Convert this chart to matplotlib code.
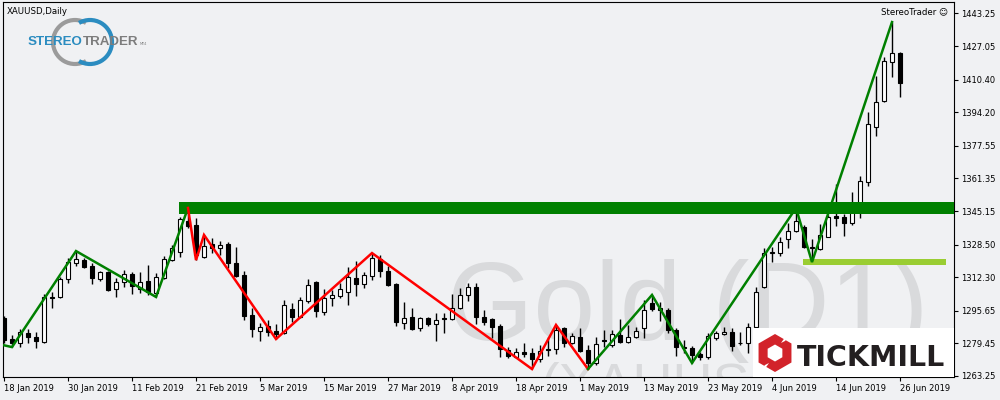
import matplotlib
matplotlib.use("Agg")
import matplotlib.pyplot as plt
import numpy as np
from matplotlib import patches

# ---------------- data (XAUUSD daily, 18 Jan 2019 .. 26 Jun 2019) ----------------
opens = [1292.0, 1281.6, 1279.6, 1284.6, 1282.6, 1280.1, 1302.5, 1302.5, 1311.4, 1319.4,
         1320.8, 1317.9, 1311.4, 1314.9, 1306.4, 1309.9, 1313.9, 1306.4, 1310.4, 1304.5,
         1311.9, 1320.8, 1324.8, 1340.2, 1338.2, 1322.3, 1328.8, 1326.8, 1328.8, 1319.4,
         1313.4, 1293.5, 1285.6, 1288.1, 1285.6, 1284.6, 1296.5, 1292.5, 1300.5, 1309.9,
         1295.0, 1302.0, 1303.0, 1304.9, 1311.9, 1308.9, 1312.9, 1321.3, 1315.4, 1308.9,
         1289.6, 1292.5, 1287.1, 1292.0, 1289.1, 1292.0, 1291.5, 1297.0, 1303.5, 1307.4,
         1292.5, 1291.5, 1288.1, 1276.2, 1272.7, 1275.2, 1274.7, 1271.7, 1276.2, 1276.6,
         1287.1, 1279.6, 1282.6, 1276.2, 1269.7, 1281.1, 1278.6, 1283.6, 1280.1, 1282.6,
         1287.1, 1299.5, 1296.0, 1296.0, 1286.1, 1277.6, 1277.1, 1274.2, 1272.7, 1282.1,
         1284.1, 1285.1, 1279.4, 1279.6, 1287.6, 1307.4, 1324.3, 1324.3, 1331.3, 1335.2,
         1337.2, 1327.3, 1326.3, 1332.3, 1342.7, 1342.2, 1339.2, 1345.2, 1359.6, 1386.9,
         1399.8, 1419.2, 1423.6]
highs = [1293.0, 1283.6, 1286.6, 1286.6, 1285.1, 1304.0, 1305.0, 1312.4, 1321.8, 1325.3,
         1321.8, 1319.4, 1315.4, 1315.4, 1311.9, 1315.9, 1314.9, 1314.9, 1318.4, 1314.4,
         1322.8, 1328.3, 1342.2, 1346.7, 1341.7, 1333.3, 1331.8, 1330.3, 1329.8, 1327.3,
         1315.4, 1297.0, 1289.6, 1291.0, 1289.1, 1301.0, 1299.5, 1302.5, 1311.4, 1310.4,
         1306.4, 1305.9, 1309.4, 1317.4, 1320.3, 1314.9, 1324.3, 1323.3, 1317.9, 1309.4,
         1300.0, 1297.0, 1292.5, 1292.5, 1294.5, 1294.5, 1304.0, 1306.9, 1309.4, 1309.4,
         1296.0, 1292.0, 1289.1, 1277.6, 1277.1, 1279.6, 1277.1, 1278.6, 1282.6, 1288.6,
         1287.6, 1284.6, 1287.1, 1278.6, 1282.6, 1286.1, 1286.1, 1291.5, 1288.6, 1287.6,
         1301.0, 1303.5, 1300.0, 1297.0, 1287.1, 1281.1, 1278.1, 1275.2, 1284.6, 1285.6,
         1287.6, 1287.1, 1285.1, 1289.6, 1307.4, 1326.8, 1327.3, 1332.3, 1339.2, 1346.7,
         1338.2, 1331.3, 1338.7, 1343.2, 1358.6, 1343.7, 1354.6, 1362.6, 1394.3, 1412.2,
         1421.7, 1439.0, 1424.1]
lows = [1279.6, 1277.6, 1277.6, 1279.6, 1277.1, 1279.6, 1297.2, 1302.0, 1309.4, 1317.9,
        1316.9, 1308.9, 1310.4, 1305.4, 1302.5, 1307.4, 1304.0, 1304.5, 1303.5, 1302.5,
        1311.4, 1320.3, 1322.3, 1336.7, 1320.8, 1321.8, 1324.3, 1323.3, 1316.9, 1312.4,
        1291.0, 1282.6, 1280.6, 1283.1, 1281.6, 1284.1, 1290.0, 1292.0, 1299.5, 1292.5,
        1293.5, 1298.0, 1302.0, 1298.5, 1303.0, 1306.9, 1310.9, 1312.4, 1307.9, 1288.1,
        1286.6, 1286.1, 1285.6, 1288.1, 1280.6, 1284.6, 1291.0, 1296.5, 1300.5, 1289.1,
        1288.6, 1282.1, 1272.7, 1272.2, 1272.2, 1272.7, 1266.7, 1270.2, 1273.2, 1274.2,
        1277.6, 1279.1, 1275.2, 1266.7, 1268.7, 1277.6, 1277.6, 1279.6, 1279.6, 1282.1,
        1282.1, 1295.5, 1290.5, 1284.6, 1273.2, 1274.7, 1269.7, 1271.2, 1271.7, 1281.1,
        1283.6, 1275.7, 1278.6, 1274.7, 1287.1, 1306.9, 1319.8, 1322.8, 1326.8, 1334.7,
        1326.8, 1319.8, 1325.8, 1332.3, 1337.7, 1332.8, 1338.2, 1341.7, 1357.6, 1382.4,
        1399.3, 1411.7, 1401.8]
closes = [1281.1, 1279.6, 1285.1, 1282.6, 1280.6, 1302.5, 1302.0, 1311.4, 1319.8, 1321.3,
          1317.4, 1311.9, 1314.9, 1305.9, 1309.9, 1313.9, 1307.9, 1309.9, 1305.0, 1312.4,
          1321.3, 1326.8, 1341.2, 1337.7, 1323.3, 1327.8, 1326.8, 1328.3, 1319.4, 1312.9,
          1293.0, 1286.6, 1287.6, 1285.1, 1284.1, 1298.5, 1292.5, 1301.0, 1308.4, 1295.5,
          1302.0, 1303.5, 1306.4, 1312.4, 1308.9, 1313.4, 1321.8, 1315.4, 1308.4, 1290.0,
          1292.0, 1286.6, 1292.0, 1289.1, 1291.0, 1291.5, 1297.0, 1303.5, 1307.4, 1292.5,
          1290.0, 1287.6, 1276.6, 1273.2, 1275.2, 1274.2, 1271.7, 1275.7, 1276.6, 1286.1,
          1279.6, 1283.1, 1275.7, 1269.7, 1279.1, 1280.6, 1284.1, 1280.1, 1282.6, 1285.6,
          1296.0, 1296.5, 1296.8, 1286.1, 1277.6, 1277.3, 1273.7, 1272.7, 1283.1, 1284.6,
          1285.1, 1278.1, 1279.8, 1287.6, 1304.9, 1324.3, 1324.8, 1329.8, 1335.2, 1340.2,
          1327.3, 1327.0, 1333.2, 1342.2, 1341.7, 1339.2, 1346.7, 1360.1, 1388.4, 1399.3,
          1419.7, 1423.6, 1408.7]

date_tick_idx = [0, 8, 16, 24, 32, 40, 48, 56, 64, 72, 80, 88, 96, 104, 112]
date_tick_labels = ["18 Jan 2019", "30 Jan 2019", "11 Feb 2019", "21 Feb 2019", "5 Mar 2019",
                    "15 Mar 2019", "27 Mar 2019", "8 Apr 2019", "18 Apr 2019", "1 May 2019",
                    "13 May 2019", "23 May 2019", "4 Jun 2019", "14 Jun 2019", "26 Jun 2019"]
price_ticks = [1443.25, 1427.05, 1410.40, 1394.20, 1377.55, 1361.35, 1345.15,
               1328.50, 1312.30, 1295.65, 1279.45, 1263.25]

# ZigZag pivots (bar index, price)
zz_up1_idx = [-1, 1, 9, 19, 23]
zz_up1_val = [1279.4, 1277.6, 1325.3, 1302.5, 1346.7]
zz_dn_idx = [23, 24, 25, 34, 46, 66, 69, 73]
zz_dn_val = [1346.7, 1320.8, 1333.3, 1281.6, 1324.3, 1266.7, 1288.6, 1266.7]
zz_up2_idx = [73, 81, 86, 99, 101, 111]
zz_up2_val = [1266.7, 1303.5, 1269.7, 1346.7, 1319.8, 1439.0]

resistance_zone = [1343.7, 1349.4]
resistance_from = 21.9
support_zone = [1318.3, 1321.3]
support_from, support_to = 99.9, 117.75

# ---------------- figure ----------------
BG = "#f0f1f3"
fig = plt.figure(figsize=(10, 4), dpi=100, facecolor=BG)
ax = fig.add_axes([0.003, 0.0575, 0.951, 0.9375], facecolor=BG)
ov = fig.add_axes([0, 0, 1, 1], facecolor="none", zorder=10)
ov.set_xlim(0, 1000)
ov.set_ylim(400, 0)
ov.axis("off")

XMAX = 118.75
ax.set_xlim(-0.125, XMAX)
ax.set_ylim(1262.75, 1448.96)

# watermark
ax.text(447, 340, "Gold (D1)", transform=ov.transData, fontsize=80, family="Liberation Sans",
        color="#d9dadc", ha="left", va="baseline", zorder=0.5, clip_on=True)
ax.text(540, 362, "(XAUUSD)", transform=ov.transData, fontsize=40, family="Liberation Sans",
        color="#d9dadc", ha="left", va="top", zorder=0.5, clip_on=True)

# candles
o = np.array(opens); h = np.array(highs); l = np.array(lows); c = np.array(closes)
x = np.arange(len(o))
up = c >= o
ax.vlines(x, l, h, color="black", lw=1.0, zorder=2)
ax.bar(x, np.abs(c - o), bottom=np.minimum(o, c), width=0.5,
       color=np.where(up, "white", "black"), edgecolor="black", linewidth=0.8, zorder=3)

# zones
ax.fill_between([resistance_from, XMAX], resistance_zone[0], resistance_zone[1],
                color="#008000", lw=0, zorder=4)
ax.fill_between([support_from, support_to], support_zone[0], support_zone[1],
                color="#9acd32", lw=0, zorder=4)

# zigzag
ax.plot(zz_up1_idx, zz_up1_val, color="#008000", lw=1.8, zorder=5, solid_joinstyle="miter")
ax.plot(zz_dn_idx, zz_dn_val, color="#ff0000", lw=1.8, zorder=5, solid_joinstyle="miter")
ax.plot(zz_up2_idx, zz_up2_val, color="#008000", lw=1.8, zorder=5, solid_joinstyle="miter")

# axes styling
for s in ax.spines.values():
    s.set_color("black")
    s.set_linewidth(0.8)
ax.yaxis.tick_right()
ax.set_yticks(price_ticks)
ax.set_yticklabels([f"{p:.2f}" for p in price_ticks])
ax.set_xticks(date_tick_idx)
ax.set_xticklabels(date_tick_labels, ha="left")
ax.tick_params(axis="y", direction="out", length=3, width=0.8, pad=2, labelsize=6,
               colors="black")
ax.tick_params(axis="x", direction="out", length=3, width=0.8, pad=2, labelsize=6,
               colors="black")

# header texts
ov.text(7, 11, "XAUUSD,Daily", fontsize=6.2, color="black", ha="left", va="center")
ov.text(948, 12, "StereoTrader \u263a", fontsize=6.2, color="black", ha="right", va="center")

# StereoTrader logo
ov.add_patch(patches.Arc((75, 42), 44, 44, theta1=60, theta2=300, lw=3, color="#9b9b9b"))
ov.add_patch(patches.Arc((90, 42), 44, 44, theta1=-120, theta2=120, lw=3, color="#2b8cc0"))
ov.text(28, 45, "STEREO", fontsize=9.6, family="Liberation Sans", weight="bold",
        color="#2b8cc0", ha="left", va="baseline")
ov.text(83, 45, "TRADER", fontsize=9.6, family="Liberation Sans", weight="bold",
        color="#7d7d7d", ha="left", va="baseline")
ov.text(140, 45, "MT4", fontsize=2.5, color="#7d7d7d", ha="left", va="baseline")

# Tickmill logo
ov.add_patch(patches.Rectangle((753, 328), 201, 48.5, facecolor="white", edgecolor="none"))
ov.add_patch(patches.RegularPolygon((775, 353), 6, radius=19, facecolor="#d2232a",
                                    edgecolor="none"))
ov.add_patch(patches.RegularPolygon((775, 353), 6, radius=8.5, facecolor="white",
                                    edgecolor="none"))
ov.add_patch(patches.Polygon([(781, 343), (785, 341), (792, 333), (788, 333)],
                             closed=True, facecolor="white", edgecolor="none"))
ov.add_patch(patches.Polygon([(769, 363), (765, 365), (758, 373), (762, 373)],
                             closed=True, facecolor="white", edgecolor="none"))
ov.text(797, 366, "TICKMILL", fontsize=20.5, family="DejaVu Sans", weight="bold",
        color="#231f20", ha="left", va="baseline")

fig.savefig("out.png", dpi=100, facecolor=BG)
